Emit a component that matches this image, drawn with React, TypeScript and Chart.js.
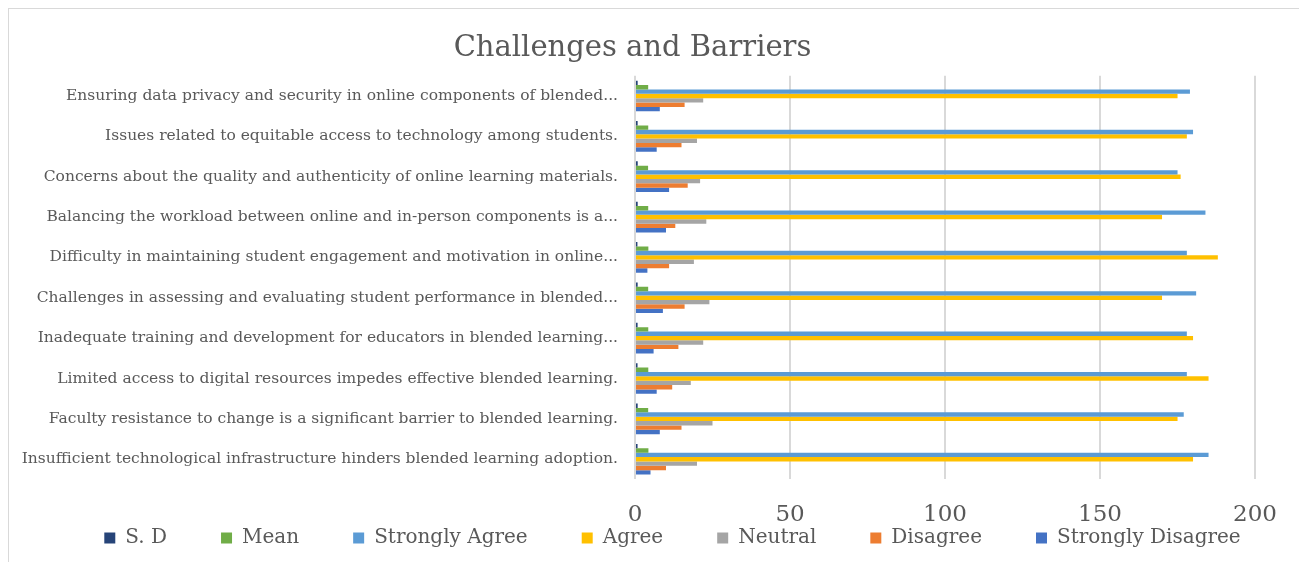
import React, { useEffect, useRef } from "react";
import { Chart, registerables } from "chart.js";

Chart.register(...registerables);

const categories = [
  "Ensuring data privacy and security in online components of blended...",
  "Issues related to equitable access to technology among students.",
  "Concerns about the quality and authenticity of online learning materials.",
  "Balancing the workload between online and in-person components is a...",
  "Difficulty in maintaining student engagement and motivation in online...",
  "Challenges in assessing and evaluating student performance in blended...",
  "Inadequate training and development for educators in blended learning...",
  "Limited access to digital resources impedes effective blended learning.",
  "Faculty resistance to change is a significant barrier to blended learning.",
  "Insufficient technological infrastructure hinders blended learning adoption.",
];

const sdValues = [0.86, 0.85, 0.88, 0.87, 0.78, 0.86, 0.84, 0.82, 0.87, 0.83];
const meanValues = [4.25, 4.27, 4.22, 4.26, 4.31, 4.25, 4.28, 4.29, 4.25, 4.33];
const stronglyAgree = [179, 180, 175, 184, 178, 181, 178, 178, 177, 185];
const agree = [175, 178, 176, 170, 188, 170, 180, 185, 175, 180];
const neutral = [22, 20, 21, 23, 19, 24, 22, 18, 25, 20];
const disagree = [16, 15, 17, 13, 11, 16, 14, 12, 15, 10];
const stronglyDisagree = [8, 7, 11, 10, 4, 9, 6, 7, 8, 5];

const seriesNames = ["S. D", "Mean", "Strongly Agree", "Agree", "Neutral", "Disagree", "Strongly Disagree"];
const seriesColors = ["#264478", "#70AD47", "#5B9BD5", "#FFC000", "#A5A5A5", "#ED7D31", "#4472C4"];
const xTicks = [0, 50, 100, 150, 200];

const FONT = "'DejaVu Serif', serif";
const LEGEND_PAD = 54;
const LEGEND_CENTER_Y = 531;
const LEGEND_SHIFT_X = 40;

const legendShift = {
  id: "legendShift",
  afterLayout(chart: any) {
    const lg = chart.legend;
    if (!lg) return;
    const h = lg.bottom - lg.top;
    const top = LEGEND_CENTER_Y - LEGEND_PAD - 12;
    lg.top = top;
    lg.bottom = top + h;
    lg.left += LEGEND_SHIFT_X;
    lg.right += LEGEND_SHIFT_X;
  },
};

export default function App() {
  const ref = useRef<HTMLCanvasElement | null>(null);
  useEffect(() => {
    if (!ref.current) return;
    const values = [sdValues, meanValues, stronglyAgree, agree, neutral, disagree, stronglyDisagree];
    const chart = new Chart(ref.current, {
      type: "bar",
      data: {
        labels: categories,
        datasets: values.map((v, i) => ({
          label: seriesNames[i],
          data: v,
          backgroundColor: seriesColors[i],
          borderWidth: 0,
          categoryPercentage: 0.76,
          barPercentage: 1,
        })),
      },
      plugins: [legendShift],
      options: {
        indexAxis: "y",
        animation: false,
        responsive: false,
        layout: { padding: { left: 0, right: 43, top: 0, bottom: -73 } },
        plugins: {
          title: {
            display: true,
            text: "Challenges and Barriers",
            color: "#595959",
            font: { family: FONT, size: 29, weight: "normal" },
            padding: { top: 22, bottom: 10 },
          },
          legend: {
            position: "bottom",
            labels: {
              color: "#595959",
              font: { family: FONT, size: 20 },
              boxWidth: 11,
              boxHeight: 11,
              padding: LEGEND_PAD,
            },
          },
          tooltip: { enabled: false },
        },
        scales: {
          x: {
            min: 0,
            max: 200,
            afterBuildTicks: (s: any) => {
              s.ticks = xTicks.map((v) => ({ value: v }));
            },
            ticks: {
              color: "#595959",
              font: { family: FONT, size: 23 },
              padding: 22,
            },
            grid: { color: "#d9d9d9", lineWidth: 2, drawTicks: false },
            border: { display: false },
          },
          y: {
            afterFit: (s: any) => {
              s.width = 626;
            },
            ticks: {
              color: "#595959",
              font: { family: FONT, size: 15.5 },
              padding: 17,
              autoSkip: false,
            },
            grid: { display: false, drawTicks: false },
            border: { display: false },
          },
        },
      },
    });
    return () => chart.destroy();
  }, []);
  return (
    <div style={{ width: 1292, height: 555, border: "1px solid #d9d9d9", boxSizing: "border-box" }}>
      <canvas ref={ref} width={1290} height={553} />
    </div>
  );
}
